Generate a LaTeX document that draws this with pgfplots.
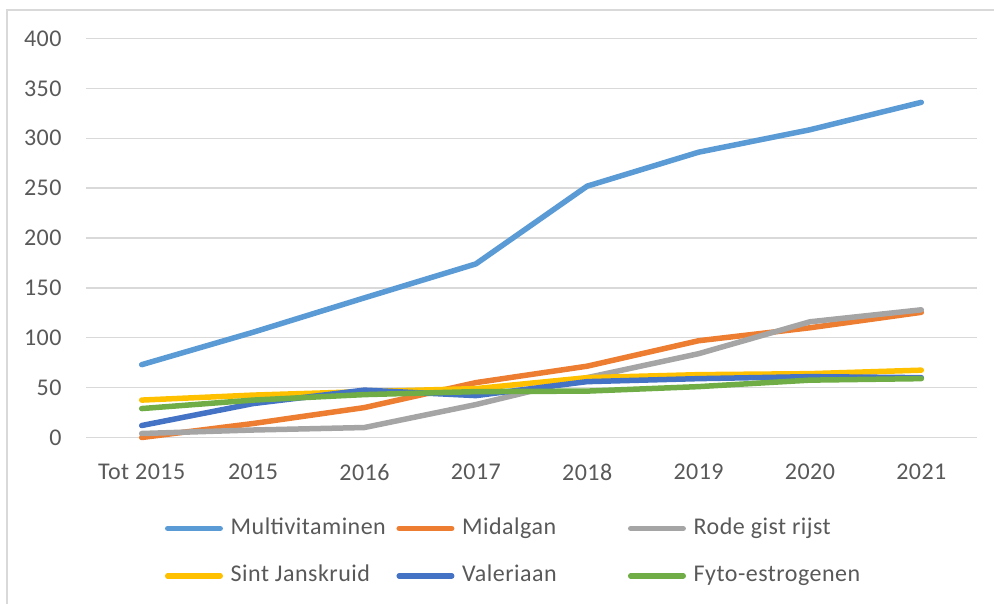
\documentclass[border=0pt]{standalone}
\usepackage{fontspec}
\setmainfont{Carlito}[LetterSpace=2]
\usepackage{pgfplots}
\pgfplotsset{compat=1.18}
\definecolor{cMulti}{HTML}{5B9BD5}
\definecolor{cMid}{HTML}{ED7D31}
\definecolor{cRode}{HTML}{A5A5A5}
\definecolor{cSint}{HTML}{FFC000}
\definecolor{cVal}{HTML}{4472C4}
\definecolor{cFyto}{HTML}{70AD47}
\definecolor{cGrid}{HTML}{D9D9D9}
\definecolor{cText}{HTML}{595959}
\newcommand{\LE}[1]{\makebox[162.5pt][l]{#1}}
\begin{document}
\begin{tikzpicture}
\path[use as bounding box] (-86pt,-166.5pt) rectangle (908pt,437.5pt);
\draw[cGrid, line width=1.3pt] (-79pt,-170pt) -- (-79pt,427.5pt) -- (912pt,427.5pt);
\begin{axis}[
  at={(0pt,0pt)}, anchor=south west,
  scale only axis, width=891pt, height=399pt,
  xmin=-0.5, xmax=7.5, ymin=0, ymax=400,
  xtick={0,...,7},
  xticklabels={Tot 2015,2015,2016,2017,2018,2019,2020,2021},
  ytick={0,50,...,400},
  axis line style={draw=none},
  major tick length=0pt,
  tick style={draw=none},
  ymajorgrids, grid style={cGrid, line width=1.3pt},
  /pgf/number format/assume math mode=true,
  tick label style={font=\fontsize{24}{28}\selectfont, text=cText, inner sep=0pt},
  yticklabel style={anchor=east, xshift=-24.3pt},
  xticklabel style={anchor=north, yshift=-26.5pt},
  every axis plot/.append style={line width=5.5pt, line cap=round, line join=round, mark=none},
  legend image code/.code={\draw[#1] (0pt,0pt) -- (52.5pt,0pt);},
  legend columns=3,
  legend style={
    at={(0.0884,-0.2)}, anchor=north west,
    draw=none, fill=none, inner sep=0pt,
    font=\fontsize{24}{28}\selectfont, text=cText,
    nodes={inner sep=0pt, text height=17pt, text depth=5pt, anchor=west},
    row sep=25.4pt,
    /tikz/every odd column/.append style={column sep=7.75pt},
    /tikz/every even column/.append style={column sep=3.25pt},
  },
  clip=false,
]
\addplot[cMulti] coordinates {(0,73) (1,105.5) (2,140) (3,174) (4,252) (5,286) (6,308.5) (7,336)};
\addlegendentry{\LE{Multivitaminen}}
\addplot[cMid] coordinates {(0,0) (1,14) (2,30) (3,55) (4,71.5) (5,97) (6,110) (7,125.5)};
\addlegendentry{\LE{Midalgan}}
\addplot[cRode] coordinates {(0,4) (1,7.5) (2,10) (3,33) (4,60) (5,84) (6,116) (7,128)};
\addlegendentry{\LE{Rode gist rijst}}
\addplot[cSint] coordinates {(0,37.5) (1,42.5) (2,46) (3,49) (4,60) (5,63) (6,64) (7,67.5)};
\addlegendentry{\LE{Sint Janskruid}}
\addplot[cVal] coordinates {(0,12) (1,34) (2,47.5) (3,42) (4,56) (5,59) (6,61) (7,60)};
\addlegendentry{\LE{Valeriaan}}
\addplot[cFyto] coordinates {(0,29) (1,37.5) (2,43) (3,46) (4,46.5) (5,51) (6,57.5) (7,59)};
\addlegendentry{\LE{Fyto-estrogenen}}
\end{axis}
\end{tikzpicture}
\end{document}
